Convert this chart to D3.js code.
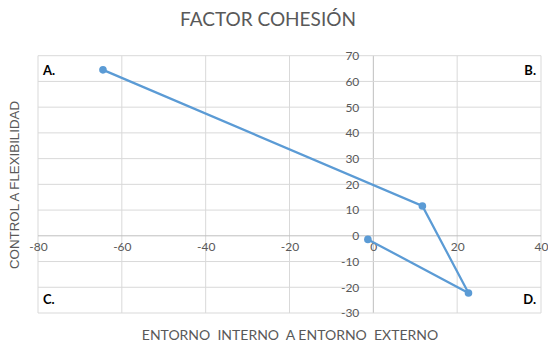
<!DOCTYPE html>
<html><head><meta charset="utf-8">
<script src="https://cdn.jsdelivr.net/npm/d3@7"></script>
<style>body{margin:0;background:#fff}svg{display:block}</style>
</head><body><svg id="c" width="548" height="347"></svg>
<script>
const xValues = [-64.5, 11.7, 22.7, -1.3];
const yValues = [64.5, 11.6, -22.2, -1.4];
const xTicks = [-80, -60, -40, -20, 0, 20, 40];
const yTicks = [70, 60, 50, 40, 30, 20, 10, 0, -10, -20, -30];
const quadrantLabels = ["A.", "B.", "C.", "D."];
const title = "FACTOR COHESIÓN";
const xTitle = "ENTORNO  INTERNO  A ENTORNO  EXTERNO";
const yTitle = "CONTROL A FLEXIBILIDAD";

const svg = d3.select("#c");
const L = 38, R = 541, T = 55.7, B = 313;
const x = d3.scaleLinear().domain([-80, 40]).range([L, R]);
const y = d3.scaleLinear().domain([-30, 70]).range([B, T]);
const grid = "#d9d9d9", txt = "#595959";
const font = "Lato, 'Open Sans', sans-serif";
const fmt = d => String(d);

// gridlines
svg.append("g").selectAll("line").data(xTicks).join("line")
  .attr("x1", d => x(d)).attr("x2", d => x(d)).attr("y1", T).attr("y2", B)
  .attr("stroke", d => d === 0 ? "#bfbfbf" : grid).attr("stroke-width", 1);
svg.append("g").selectAll("line").data(yTicks).join("line")
  .attr("y1", d => y(d)).attr("y2", d => y(d)).attr("x1", L).attr("x2", R)
  .attr("stroke", d => d === 0 ? "#bfbfbf" : grid).attr("stroke-width", 1);

// axes via d3
const xAxis = d3.axisBottom(x).tickValues(xTicks).tickFormat(fmt).tickSize(0).tickPadding(7);
svg.append("g").attr("transform", `translate(0,${y(0)})`).call(xAxis)
  .call(g => g.select(".domain").remove())
  .selectAll("text").attr("fill", txt).style("font-family", font).style("font-size", "12px");
const yAxis = d3.axisLeft(y).tickValues(yTicks).tickFormat(fmt).tickSize(0).tickPadding(2);
svg.append("g").attr("transform", `translate(${x(0) - 12},0)`).call(yAxis)
  .call(g => g.select(".domain").remove())
  .selectAll("text").attr("fill", txt).style("font-family", font).style("font-size", "12px");

// line
const pts = xValues.map((v, i) => [v, yValues[i]]);
svg.append("path").datum(pts)
  .attr("d", d3.line().x(d => x(d[0])).y(d => y(d[1])))
  .attr("fill", "none").attr("stroke", "#5b9bd5").attr("stroke-width", 2.25);
svg.append("g").selectAll("circle").data(pts).join("circle")
  .attr("cx", d => x(d[0])).attr("cy", d => y(d[1])).attr("r", 3.8)
  .attr("fill", "#5b9bd5");

// quadrant labels
const qpos = [[L + 5, 75, "start"], [R - 5, 75, "end"], [L + 5, 304, "start"], [R - 5, 304, "end"]];
svg.append("g").selectAll("text").data(quadrantLabels).join("text")
  .attr("x", (d, i) => qpos[i][0]).attr("y", (d, i) => qpos[i][1])
  .attr("text-anchor", (d, i) => qpos[i][2])
  .attr("fill", "#000").style("font-family", font).style("font-size", "13px").style("font-weight", "bold")
  .text(d => d);

// titles
svg.append("text").attr("x", 268).attr("y", 26).attr("text-anchor", "middle")
  .attr("fill", txt).style("font-family", font).style("font-size", "19px").text(title);
svg.append("text").attr("x", 290).attr("y", 340).attr("text-anchor", "middle")
  .attr("fill", txt).style("font-family", font).style("font-size", "14px")
  .style("white-space", "pre").attr("xml:space", "preserve").text(xTitle);
svg.append("text").attr("transform", "translate(19,185) rotate(-90)").attr("text-anchor", "middle")
  .attr("fill", txt).style("font-family", "'Liberation Sans', Arial, sans-serif").style("font-size", "13.3px")
  .text(yTitle);
</script></body></html>
